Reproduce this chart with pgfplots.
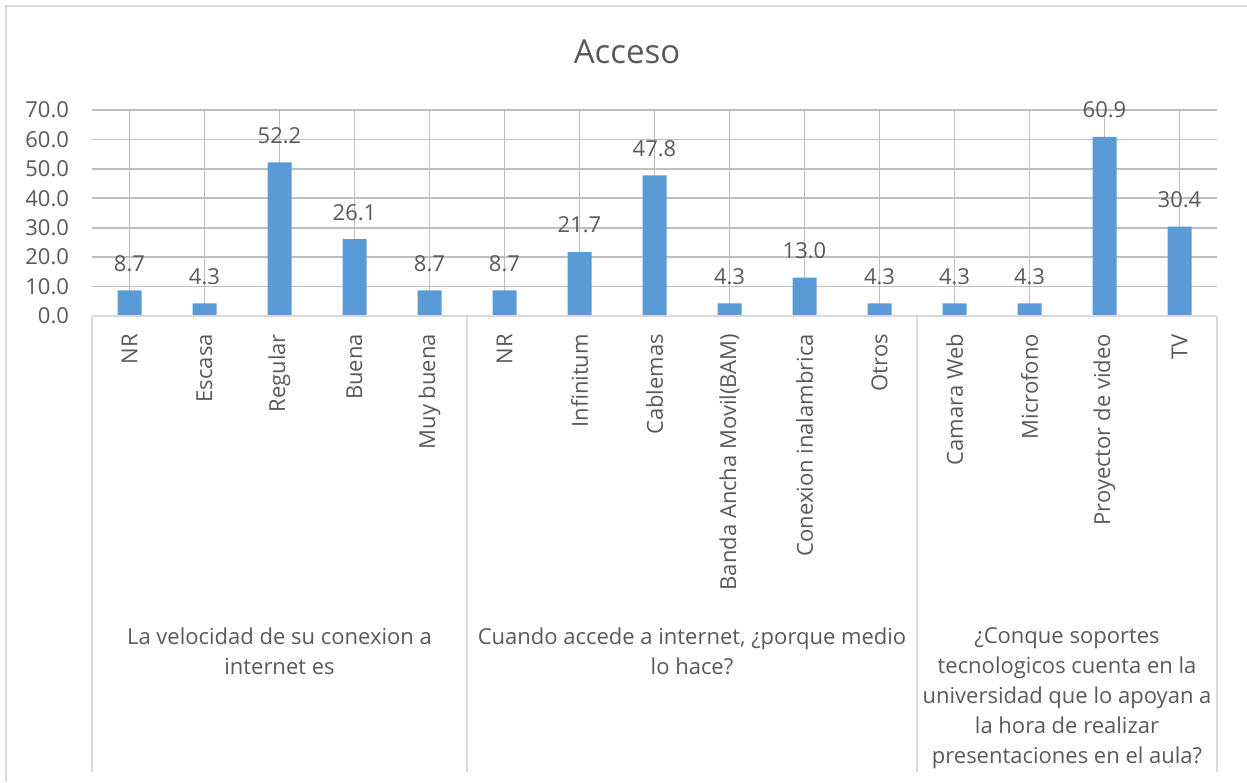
\documentclass[border=0pt]{standalone}
\usepackage{pgfplots}
\pgfplotsset{compat=1.18}
\usepackage{fontspec}
\setmainfont{Open Sans}
\definecolor{barblue}{HTML}{5B9BD5}
\definecolor{txt}{HTML}{595959}
\definecolor{grid}{HTML}{D9D9D9}
\begin{document}
\begin{tikzpicture}
\useasboundingbox (0,0) rectangle (623.5pt,391pt);
\draw[grid, line width=0.8pt] (3pt,0pt) -- (3pt,388pt) -- (623.5pt,388pt);
\node[txt, font=\fontsize{16.5}{20}\selectfont] at (313.5pt,365pt) {Acceso};
\begin{axis}[
  at={(46pt,233pt)}, anchor=south west,
  scale only axis, width=562.5pt, height=103pt,
  xmin=-0.5, xmax=14.5, ymin=0, ymax=70,
  ytick={0,10,...,70},
  ymajorgrids, grid style={grid, line width=0.8pt},
  axis line style={draw=none},
  major tick length=0pt,
  yticklabel={\pgfmathprintnumber[fixed,fixed zerofill,precision=1]{\tick}},
  yticklabel style={txt, font=\fontsize{11}{13}\selectfont, xshift=-8pt},
  /pgf/number format/assume math mode=true,
  xtick=data,
  xticklabels={NR,Escasa,Regular,Buena,Muy buena,NR,Infinitum,Cablemas,Banda Ancha Movil(BAM),Conexion inalambrica,Otros,Camara Web,Microfono,Proyector de video,TV},
  xticklabel style={txt, font=\fontsize{11}{13}\selectfont, yshift=-5.5pt, rotate=90, anchor=east},
  clip=false,
  ybar, bar width=12pt,
  nodes near coords={\pgfmathprintnumber[fixed,fixed zerofill,precision=1]{\pgfplotspointmeta}},
  nodes near coords style={txt, font=\fontsize{11}{13}\selectfont, anchor=center, yshift=13.5pt},
]
\addplot[fill=barblue, draw=none] coordinates {
(0,8.7) (1,4.3) (2,52.2) (3,26.1) (4,8.7)
(5,8.7) (6,21.7) (7,47.8) (8,4.3) (9,13.0) (10,4.3)
(11,4.3) (12,4.3) (13,60.9) (14,30.4)};
\draw[grid, line width=0.8pt] (axis cs:-0.5,0) -- (axis cs:14.5,0);
\draw[grid, line width=0.8pt] (axis cs:-0.5,0) -- (axis cs:-0.5,-155);
\draw[grid, line width=0.8pt] (axis cs:4.5,0) -- (axis cs:4.5,-155);
\draw[grid, line width=0.8pt] (axis cs:10.5,0) -- (axis cs:10.5,-155);
\draw[grid, line width=0.8pt] (axis cs:14.5,0) -- (axis cs:14.5,-155);
\node[txt, font=\fontsize{11}{15}\selectfont, align=center, anchor=north] at (axis cs:2,-103.6) {La velocidad de su conexion a\\internet es};
\node[txt, font=\fontsize{11}{15}\selectfont, align=center, anchor=north] at (axis cs:7.5,-103.6) {Cuando accede a internet, ¿porque medio\\lo hace?};
\node[txt, font=\fontsize{11}{15}\selectfont, align=center, anchor=north] at (axis cs:12.5,-103.6) {¿Conque soportes\\tecnologicos cuenta en la\\universidad que lo apoyan a\\la hora de realizar\\presentaciones en el aula?};
\end{axis}
\end{tikzpicture}
\end{document}
